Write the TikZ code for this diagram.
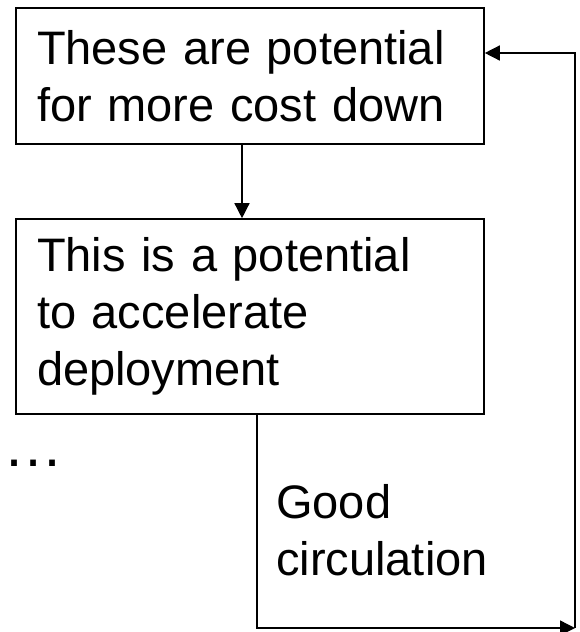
\documentclass[tikz,border=0pt]{standalone}
\usepackage{fontspec}
\setmainfont{Liberation Sans}
\usetikzlibrary{arrows.meta}

\tikzset{
  box/.style={draw, line width=1.6pt, text width=426pt, inner xsep=21pt,
    inner ysep=0pt, align=left, font=\fontsize{47}{57}\selectfont},
  flow/.style={line width=1.4pt, -{Triangle[length=15pt,width=15pt]}},
}

\begin{document}
\begin{tikzpicture}[x=1pt, y=-1pt]
\useasboundingbox (0,0) rectangle (579,632);

\node[box, minimum height=136pt] (costdown) at (250,76) {These are potential\\for more cost down};
\node[box, minimum height=195pt] (deploy) at (250,316.5) {This is a potential\\to accelerate\\deployment};
\node[anchor=base west, inner sep=0pt, font=\fontsize{60}{60}\selectfont] (more) at (3,466) {…};
\node[anchor=north west, inner sep=0pt, align=left, font=\fontsize{47}{57}\selectfont]
  (good) at (276,484) {Good\\circulation};
\coordinate (loop) at (575,628);

% down to the second box
\draw[flow] ([xshift=-8pt]costdown.south) -- ([xshift=-8pt]deploy.north);
% back round to the top
\draw[flow] ([xshift=7pt]deploy.south) |- (loop);
\draw[flow] (loop) |- ([yshift=23pt]costdown.east);
\end{tikzpicture}
\end{document}
